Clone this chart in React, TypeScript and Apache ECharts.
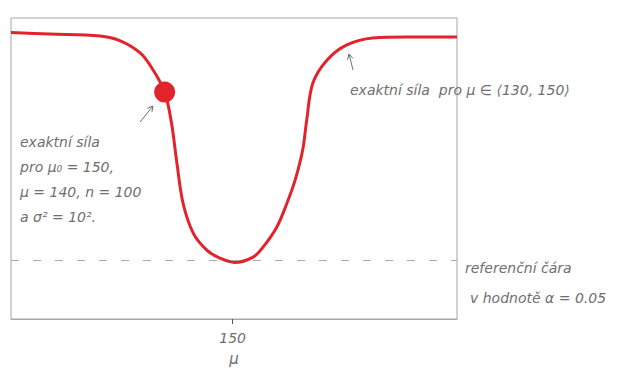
import React, { useEffect, useRef } from "react";
import * as echarts from "echarts";

// x: mean mu, y: exact power of the test
const muValues = [117.4, 123.1, 130.5, 133.4, 136.4, 138.3, 140.0, 141.0, 141.8, 142.7, 144.2, 146.2, 148.1, 150.3, 153.0, 154.5, 156.5, 158.0, 159.2, 160.3, 160.9, 161.8, 163.9, 166.8, 170.6, 175.6, 183.0];
const powerValues = [0.99, 0.984, 0.976, 0.957, 0.906, 0.836, 0.745, 0.618, 0.453, 0.288, 0.164, 0.094, 0.061, 0.043, 0.065, 0.107, 0.189, 0.288, 0.383, 0.506, 0.63, 0.782, 0.877, 0.939, 0.968, 0.972, 0.972];
const highlightMu = [140];
const highlightPower = [0.745];
const alphaLevel = 0.05;
const xTickValues = [150];
const xAxisName = "μ";
const noteLeft = ["exaktní síla", "pro μ₀ = 150,", "μ = 140, n = 100", "a σ² = 10²."];
const noteRight = "exaktní síla  pro μ ∈ ⟨130, 150⟩";
const noteRef = ["referenční čára", "v hodnotě α = 0.05"];

const RED = "#e3232b";
const PENCIL = "#6f6f6f";
const FONT = "'DejaVu Sans', sans-serif";

export default function App() {
  const ref = useRef<HTMLDivElement>(null);
  useEffect(() => {
    if (!ref.current) return;
    const chart = echarts.init(ref.current, null, { renderer: "svg" });
    const lineData = muValues.map((m, i) => [m, powerValues[i]]);
    const dotData = highlightMu.map((m, i) => [m, highlightPower[i]]);
    const txt = (x: number, y: number, s: string, size = 14) => ({
      type: "text",
      x,
      y,
      style: { text: s, fill: PENCIL, font: `italic ${size}px ${FONT}`, textVerticalAlign: "middle" },
    });
    const arrow = (x1: number, y1: number, x2: number, y2: number) => {
      const a = Math.atan2(y2 - y1, x2 - x1);
      const L = 6;
      return [
        { type: "line", shape: { x1, y1, x2, y2 }, style: { stroke: PENCIL, lineWidth: 1 } },
        {
          type: "polyline",
          shape: {
            points: [
              [x2 - L * Math.cos(a - 0.5), y2 - L * Math.sin(a - 0.5)],
              [x2, y2],
              [x2 - L * Math.cos(a + 0.5), y2 - L * Math.sin(a + 0.5)],
            ],
          },
          style: { stroke: PENCIL, lineWidth: 1, fill: null },
        },
      ];
    };
    chart.setOption({
      animation: false,
      grid: { left: 11, top: 18, width: 446, height: 301, show: true, borderColor: "#a6a6a6", borderWidth: 1 },
      xAxis: {
        type: "value",
        min: 117.4,
        max: 183,
        name: xAxisName,
        nameLocation: "middle",
        nameGap: 32,
        nameTextStyle: { color: PENCIL, fontSize: 15, fontFamily: FONT, fontStyle: "italic" },
        axisLine: { show: true, onZero: false, lineStyle: { color: "#a6a6a6" } },
        axisTick: { show: true, customValues: xTickValues, length: 5, lineStyle: { color: "#555" } },
        axisLabel: { customValues: xTickValues, color: PENCIL, fontSize: 14, fontFamily: FONT, fontStyle: "italic", margin: 12 },
        splitLine: { show: false },
      },
      yAxis: { type: "value", min: -0.19, max: 1.05, show: false },
      series: [
        {
          type: "line",
          data: lineData,
          smooth: 0.35,
          symbol: "none",
          lineStyle: { color: RED, width: 3 },
          markLine: {
            silent: true,
            symbol: "none",
            label: { show: false },
            lineStyle: { color: "#a9aab3", type: [8, 14], width: 1.2 },
            data: [{ yAxis: alphaLevel }],
          },
          z: 3,
        },
        {
          type: "scatter",
          data: dotData,
          symbolSize: 21,
          itemStyle: { color: RED, opacity: 1 },
          z: 4,
        },
      ],
      graphic: [
        ...noteLeft.map((s, i) => txt(20, 142 + i * 25, s)),
        txt(350, 90, noteRight),
        txt(465, 268, noteRef[0]),
        txt(470, 298, noteRef[1]),
        ...arrow(140, 122, 153, 106),
        ...arrow(353, 70, 349, 54),
      ],
    });
    return () => chart.dispose();
  }, []);
  return <div ref={ref} style={{ position: "absolute", left: 0, top: 0, width: 629, height: 383 }} />;
}
